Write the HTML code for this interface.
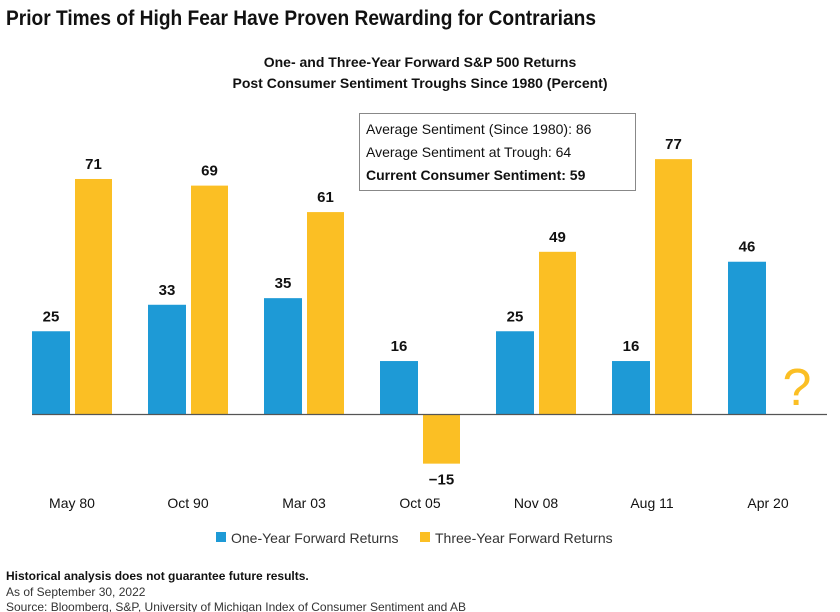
<!DOCTYPE html>
<html><head><meta charset="utf-8"><style>
body{margin:0;background:#fff;font-family:"Liberation Sans",sans-serif}
svg{display:block}
</style></head><body>
<svg width="840" height="612" viewBox="0 0 840 612">
<text x="6" y="25" font-size="21" font-weight="bold" fill="#111" textLength="590" lengthAdjust="spacingAndGlyphs">Prior Times of High Fear Have Proven Rewarding for Contrarians</text>
<text x="420" y="67" text-anchor="middle" font-size="14" font-weight="bold" fill="#111">One- and Three-Year Forward S&amp;P 500 Returns</text>
<text x="420" y="88" text-anchor="middle" font-size="14" font-weight="bold" fill="#111">Post Consumer Sentiment Troughs Since 1980 (Percent)</text>
<g id="bars"></g>
<line x1="32" y1="414.5" x2="827" y2="414.5" stroke="#555" stroke-width="1.2"/>
<text x="797" y="405" text-anchor="middle" font-size="52" fill="#fbbf24" font-weight="normal" style="font-family:'Liberation Sans',sans-serif;font-weight:100">?</text>
<g>
<rect x="359.5" y="113.5" width="276" height="77" fill="#fff" stroke="#888"/>
<text x="366" y="134" font-size="14" fill="#111">Average Sentiment (Since 1980): 86</text>
<text x="366" y="157" font-size="14" fill="#111">Average Sentiment at Trough: 64</text>
<text x="366" y="180" font-size="14" font-weight="bold" fill="#111">Current Consumer Sentiment: 59</text>
</g>
<g>
<rect x="216" y="532" width="10" height="10" fill="#1e9ad6"/>
<text x="231" y="543" font-size="14" fill="#333">One-Year Forward Returns</text>
<rect x="420" y="532" width="10" height="10" fill="#fbbf24"/>
<text x="435" y="543" font-size="14" fill="#333">Three-Year Forward Returns</text>
</g>
<text x="6" y="580" font-size="12" font-weight="bold" fill="#111">Historical analysis does not guarantee future results.</text>
<text x="6" y="596" font-size="12" fill="#333">As of September 30, 2022</text>
<text x="6" y="611" font-size="12" fill="#333">Source: Bloomberg, S&amp;P, University of Michigan Index of Consumer Sentiment and AB</text>
</svg>
<script>
const categories=["May 80","Oct 90","Mar 03","Oct 05","Nov 08","Aug 11","Apr 20"];
const oneYear=[25,33,35,16,25,16,46];
const threeYear=[71,69,61,-15,49,77,null];
const NS="http://www.w3.org/2000/svg";
const g=document.getElementById("bars");
const base=414, scale=3.31;
function xc(i){return 72+116*i;}
function y(v){return base-v*scale;}
function mk(tag,attrs){const e=document.createElementNS(NS,tag);for(const k in attrs)e.setAttribute(k,attrs[k]);g.appendChild(e);return e;}
function bar(x,w,v,color,name){
  const r=mk("rect",{x:x,y:Math.min(y(v),base),width:w,height:Math.abs(v*scale),fill:color});
  
  
  const ly=v>=0?y(v)-10:y(v)+21;
  const t=mk("text",{x:x+w/2,y:ly,"text-anchor":"middle","font-size":"15","font-weight":"bold",fill:"#111"});
  t.textContent=v<0?"\u2212"+Math.abs(v):String(v);
  
  
}
categories.forEach((c,i)=>{
  const cx=xc(i);
  if(oneYear[i]!=null) bar(cx-40,38,oneYear[i],"#1e9ad6","bar-one-year-"+i);
  if(threeYear[i]!=null) bar(cx+3,37,threeYear[i],"#fbbf24","bar-three-year-"+i);
  const t=mk("text",{x:cx,y:508,"text-anchor":"middle","font-size":"14",fill:"#111"});
  t.textContent=c;
  
  
});
</script>
</body></html>
